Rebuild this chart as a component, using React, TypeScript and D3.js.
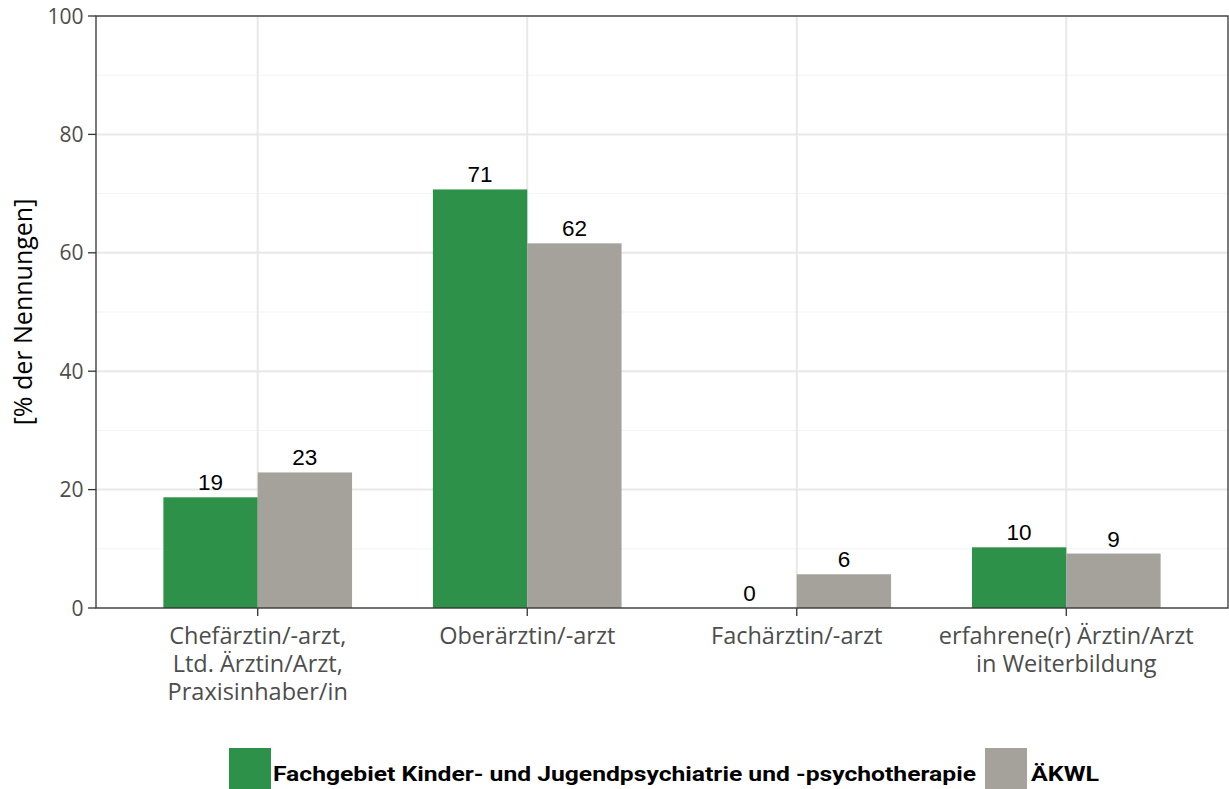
import React from "react";
import * as d3 from "d3";

const categories = [
  ["Chefärztin/-arzt,", "Ltd. Ärztin/Arzt,", "Praxisinhaber/in"],
  ["Oberärztin/-arzt"],
  ["Fachärztin/-arzt"],
  ["erfahrene(r) Ärztin/Arzt", "in Weiterbildung"],
];
const seriesNames = ["Fachgebiet Kinder- und Jugendpsychiatrie und -psychotherapie", "ÄKWL"];
const kjpValues = [18.7, 70.7, 0, 10.25];
const akwlValues = [22.9, 61.6, 5.7, 9.2];
const yTicks = [0, 20, 40, 60, 80, 100];
const colors = ["#2e9149", "#a5a29c"];

export default function App() {
  const width = 1229;
  const height = 789;
  const left = 96;
  const right = 1228;
  const top = 16;
  const bottom = 608;

  const x = d3
    .scaleBand<number>()
    .domain(d3.range(categories.length))
    .range([left, right])
    .paddingInner(0)
    .paddingOuter(0.1);
  const y = d3.scaleLinear().domain([0, 100]).range([bottom, top]);

  const step = x.step();
  const center = (i: number) => (x(i) as number) + step / 2;
  const dodge = d3
    .scaleBand<number>()
    .domain([0, 1])
    .range([-step * 0.35, step * 0.35]);

  const minor = d3.range(10, 100, 20);
  const series = [kjpValues, akwlValues];

  return (
    <svg width={width} height={height} style={{ display: "block", position: "absolute", left: 0, top: 0 }}>
      <rect width={width} height={height} fill="white" />
      {minor.map((t) => (
        <line key={"mi" + t} x1={left} x2={right} y1={y(t)} y2={y(t)} stroke="#f3f3f3" strokeWidth={1} />
      ))}
      {yTicks.map((t) => (
        <line key={"ma" + t} x1={left} x2={right} y1={y(t)} y2={y(t)} stroke="#e8e8e8" strokeWidth={2} />
      ))}
      {categories.map((_, i) => (
        <line key={"vx" + i} x1={center(i)} x2={center(i)} y1={top} y2={bottom} stroke="#e8e8e8" strokeWidth={2} />
      ))}

      {series.map((vals, s) =>
        vals.map((v, i) => (
          <g key={"b" + s + i}>
            <rect
              x={center(i) + (dodge(s) as number)}
              y={y(v)}
              width={dodge.bandwidth()}
              height={bottom - y(v)}
              fill={colors[s]}
            />
            <text
              x={center(i) + (dodge(s) as number) + dodge.bandwidth() / 2}
              y={y(v) - 7}
              textAnchor="middle"
              fontFamily="Liberation Sans, Arial, sans-serif"
              fontSize={22.5}
              fill="#000"
            >
              {Math.round(v)}
            </text>
          </g>
        ))
      )}

      <rect x={left} y={top} width={right - left} height={bottom - top} fill="none" stroke="#333" strokeWidth={1.3} />

      {yTicks.map((t) => (
        <g key={"yt" + t}>
          <line x1={left - 8} x2={left} y1={y(t)} y2={y(t)} stroke="#333" strokeWidth={1.3} />
          <text
            x={left - 12.5}
            y={y(t)}
            dy="0.36em"
            textAnchor="end"
            fontFamily="Open Sans, sans-serif"
            fontSize={21}
            fill="#4d4d4d"
          >
            {t}
          </text>
        </g>
      ))}

      {categories.map((lines, i) => (
        <g key={"xt" + i}>
          <line x1={center(i)} x2={center(i)} y1={bottom} y2={bottom + 8} stroke="#333" strokeWidth={1.3} />
          <text textAnchor="middle" fontFamily="Open Sans, sans-serif" fontSize={23.5} fill="#4d4d4d">
            {lines.map((l, k) => (
              <tspan key={k} x={center(i)} y={644 + k * 28}>
                {l}
              </tspan>
            ))}
          </text>
        </g>
      ))}

      <text
        transform={`translate(32,${(top + bottom) / 2}) rotate(-90)`}
        textAnchor="middle"
        fontFamily="Open Sans, sans-serif"
        fontSize={25}
        fill="#000"
      >
        [% der Nennungen]
      </text>

      <rect x={229} y={748} width={42} height={41} fill={colors[0]} />
      <text
        x={273}
        y={781}
        fontFamily="Liberation Sans Narrow, Roboto, sans-serif"
        fontWeight="bold"
        fontSize={21}
        textLength={703}
        lengthAdjust="spacingAndGlyphs"
        fill="#000"
      >
        {seriesNames[0]}
      </text>
      <rect x={985} y={748} width={42} height={41} fill={colors[1]} />
      <text
        x={1031}
        y={781}
        fontFamily="Liberation Sans Narrow, Roboto, sans-serif"
        fontWeight="bold"
        fontSize={21}
        textLength={68}
        lengthAdjust="spacingAndGlyphs"
        fill="#000"
      >
        {seriesNames[1]}
      </text>
    </svg>
  );
}
